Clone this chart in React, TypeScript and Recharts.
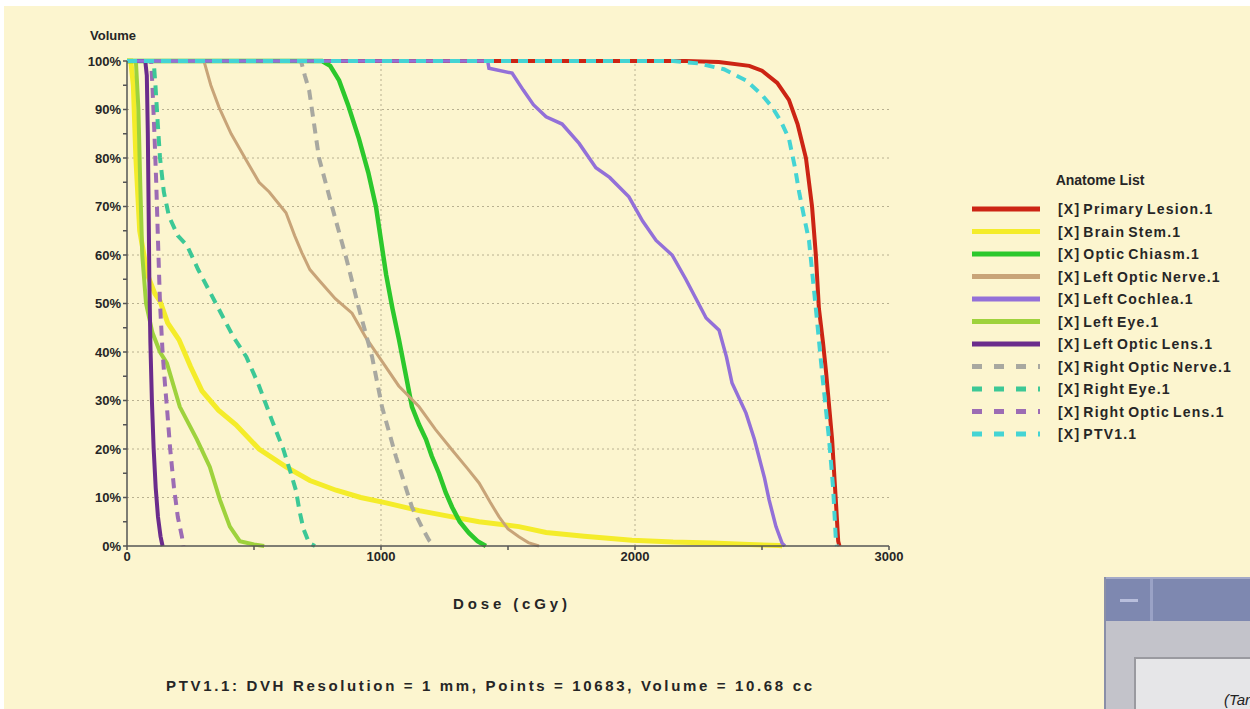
import { LineChart, Line, XAxis, YAxis, ReferenceLine } from "recharts";

// DVH curves: [dose cGy, volume %]
const primaryLesion = [
  [0, 100], [2200, 100], [2330, 99.8], [2450, 99], [2500, 98], [2560, 95.5], [2606, 92], [2640, 87],
  [2673, 80], [2697, 70], [2712, 60], [2724, 49], [2740, 42], [2752, 36], [2776, 22], [2790, 10],
  [2800, 1], [2805, 0],
];
const brainStem = [
  [0, 100], [15, 100], [25, 95], [35, 80], [50, 65], [80, 56], [110, 52], [130, 50.5], [160, 46],
  [205, 42.5], [250, 37], [295, 32], [360, 28], [429, 25], [520, 20], [626, 16.3], [720, 13.5],
  [823, 11.5], [920, 10], [1020, 8.9], [1150, 7.3], [1280, 6], [1386, 5], [1543, 4], [1650, 2.8],
  [1800, 2], [1988, 1.2], [2150, 0.8], [2303, 0.6], [2450, 0.3], [2567, 0.1], [2580, 0],
];
const opticChiasm = [
  [0, 100], [768, 100], [800, 99], [835, 96], [870, 91], [913, 84], [950, 77], [980, 70], [1000, 63],
  [1020, 56], [1045, 49], [1071, 42.5], [1095, 36], [1122, 28.7], [1150, 25], [1177, 22], [1200, 18.5],
  [1228, 15], [1255, 11], [1280, 8], [1310, 5], [1346, 2.7], [1380, 1], [1413, 0],
];
const leftOpticNerve = [
  [0, 100], [303, 100], [330, 95], [362, 90.5], [410, 85], [469, 79.6], [520, 75], [560, 73],
  [626, 68.7], [660, 64], [689, 60.4], [720, 57], [756, 54.8], [820, 51], [886, 48], [940, 43],
  [992, 39], [1070, 33], [1150, 28.7], [1215, 24], [1280, 19.8], [1340, 16], [1386, 13], [1430, 9],
  [1465, 6], [1500, 3.5], [1543, 1.9], [1580, 0.7], [1622, 0],
];
const leftCochlea = [
  [0, 100], [1420, 100], [1425, 98.5], [1516, 97.5], [1560, 94], [1600, 91], [1650, 88.5], [1713, 87],
  [1780, 83], [1846, 78], [1900, 76], [1976, 72], [2030, 67], [2083, 63], [2146, 60], [2200, 55],
  [2280, 47], [2331, 44.5], [2360, 39], [2382, 33.6], [2437, 27.4], [2470, 22], [2488, 18.4],
  [2510, 14], [2528, 9.5], [2555, 4], [2579, 0.6], [2590, 0],
];
const leftEye = [
  [0, 100], [35, 100], [45, 90], [52, 75], [60, 60], [75, 50], [100, 44], [130, 40], [157, 37.7],
  [208, 28.7], [275, 22], [326, 16.3], [366, 9.5], [405, 4], [444, 1], [500, 0.3], [540, 0],
];
const leftOpticLens = [
  [0, 100], [72, 100], [78, 97], [82, 85], [85, 70], [88, 55], [92, 42], [98, 30], [105, 20],
  [113, 12], [122, 6], [132, 2], [140, 0],
];
const rightOpticNerve = [
  [0, 100], [685, 100], [700, 97], [717, 94], [756, 80], [807, 70], [862, 59.6], [913, 49],
  [965, 39], [1004, 28.7], [1059, 18.4], [1122, 8], [1160, 4], [1189, 1.2], [1209, 0],
];
const rightEye = [
  [0, 100], [105, 100], [112, 95], [120, 88], [130, 80], [145, 73], [165, 68], [200, 64], [236, 62],
  [280, 57], [330, 52], [370, 48], [420, 43], [470, 39], [520, 33], [570, 26], [615, 20], [645, 15],
  [665, 11.5], [680, 7], [695, 3.5], [717, 0.6], [740, 0],
];
const rightOpticLens = [
  [0, 100], [95, 100], [100, 95], [108, 85], [115, 75], [122, 63], [130, 50], [140, 40], [150, 33],
  [157, 28.7], [170, 20], [185, 12], [200, 6], [216, 2], [222, 0],
];
const ptv = [
  [0, 100], [2150, 100], [2250, 99.5], [2350, 98.3], [2437, 96], [2500, 93], [2540, 90.5],
  [2575, 87.5], [2606, 84], [2630, 78], [2646, 73], [2665, 68], [2685, 63], [2712, 49], [2736, 36],
  [2764, 22], [2780, 12], [2791, 1], [2795, 0],
];

const xTicks = [0, 500, 1000, 1500, 2000, 2500, 3000];
const yTicks = [0, 5, 10, 15, 20, 25, 30, 35, 40, 45, 50, 55, 60, 65, 70, 75, 80, 85, 90, 95, 100];
const gridY = [10, 20, 30, 40, 50, 60, 70, 80, 90];
const gridX = [1000, 2000];

// legend order
const series = [
  { label: "[X] Primary Lesion.1", color: "#cc2414", w: 4, dash: "", pts: primaryLesion },
  { label: "[X] Brain Stem.1", color: "#f4ec2a", w: 5, dash: "", pts: brainStem },
  { label: "[X] Optic Chiasm.1", color: "#2cc82c", w: 4.5, dash: "", pts: opticChiasm },
  { label: "[X] Left Optic Nerve.1", color: "#c8a478", w: 3, dash: "", pts: leftOpticNerve },
  { label: "[X] Left Cochlea.1", color: "#9370d8", w: 3.5, dash: "", pts: leftCochlea },
  { label: "[X] Left Eye.1", color: "#9ed23c", w: 4, dash: "", pts: leftEye },
  { label: "[X] Left Optic Lens.1", color: "#6b2c8c", w: 4, dash: "", pts: leftOpticLens },
  { label: "[X] Right Optic Nerve.1", color: "#a8a8a0", w: 4, dash: "10 7", pts: rightOpticNerve },
  { label: "[X] Right Eye.1", color: "#3cc896", w: 4, dash: "10 7", pts: rightEye },
  { label: "[X] Right Optic Lens.1", color: "#9c6cb4", w: 4, dash: "10 7", pts: rightOpticLens },
  { label: "[X] PTV1.1", color: "#44d4d4", w: 4, dash: "10 7", pts: ptv },
];

// draw order (last on top)
const drawOrder = [0, 1, 2, 3, 7, 5, 6, 9, 8, 4, 10];

const BG = "#fcf5cf";
const INK = "#262626";

export default function App() {
  return (
    <div style={{ position: "absolute", left: 0, top: 0, width: 1250, height: 709, background: "#fff", overflow: "hidden", fontFamily: "'Liberation Sans', Arial, sans-serif" }}>
      <style>{"html,body{margin:0;padding:0;overflow:hidden;}"}</style>
      <div style={{ position: "absolute", left: 4, top: 6, width: 1246, height: 703, background: BG }} />

      <div style={{ position: "absolute", left: 0, top: 0 }}>
        <LineChart width={940} height={600} margin={{ top: 61, right: 51, bottom: 24, left: 67 }}>
          <XAxis
            dataKey="dose"
            type="number"
            domain={[0, 3000]}
            ticks={xTicks}
            tickFormatter={(v) => (v % 1000 === 0 ? String(v) : "")}
            height={30}
            stroke="#555"
            strokeWidth={1.5}
            tickSize={4}
            tick={{ fill: INK, fontSize: 13, fontWeight: "bold" }}
          />
          <YAxis
            type="number"
            domain={[0, 100]}
            ticks={yTicks}
            tickFormatter={(v) => (v % 10 === 0 ? v + "%" : "")}
            width={60}
            stroke="#555"
            strokeWidth={1.5}
            tickSize={4}
            tick={{ fill: INK, fontSize: 13, fontWeight: "bold" }}
            interval={0}
          />
          {gridY.map((y) => (
            <ReferenceLine key={"gy" + y} y={y} stroke="#b8b090" strokeDasharray="2 3" />
          ))}
          {gridX.map((x) => (
            <ReferenceLine key={"gx" + x} x={x} stroke="#b8b090" strokeDasharray="2 3" />
          ))}
          {drawOrder.map((i) => {
            const s = series[i];
            return (
              <Line
                key={s.label}
                data={s.pts.map(([d, v]) => ({ dose: d, vol: v }))}
                dataKey="vol"
                type="linear"
                stroke={s.color}
                strokeWidth={s.w}
                strokeDasharray={s.dash || undefined}
                dot={false}
                activeDot={false}
                isAnimationActive={false}
              />
            );
          })}
        </LineChart>
      </div>

      <svg width={1250} height={709} style={{ position: "absolute", left: 0, top: 0, pointerEvents: "none" }}>
        <text x={113} y={40} textAnchor="middle" fontSize={13} fontWeight="bold" fill={INK}>Volume</text>
        <text x={453} y={609} fontSize={15} fontWeight="bold" fill={INK} textLength={114} lengthAdjust="spacing">Dose (cGy)</text>
        <text x={166} y={691} fontSize={15} fontWeight="bold" fill={INK} textLength={646} lengthAdjust="spacing">
          PTV1.1: DVH Resolution = 1 mm, Points = 10683, Volume = 10.68 cc
        </text>

        <text x={1100} y={185} textAnchor="middle" fontSize={14} fontWeight="bold" fill={INK}>Anatome List</text>
        {series.map((s, i) => {
          const y = 209 + i * 22.5;
          return (
            <g key={s.label}>
              <line x1={972} x2={1040} y1={y} y2={y} stroke={s.color} strokeWidth={5} strokeDasharray={s.dash ? "10 12" : undefined} />
              <text x={1058} y={y + 5} fontSize={14} fontWeight="bold" fill={INK} letterSpacing={1.2} wordSpacing={-2}>{s.label}</text>
            </g>
          );
        })}
      </svg>

      {/* partial dialog window in the corner */}
      <div style={{ position: "absolute", left: 1104, top: 577, width: 146, height: 132, background: "#c3c3ca", borderLeft: "2px solid #8a8fa8" }}>
        <div style={{ position: "absolute", left: 0, top: 0, width: 146, height: 42, background: "#7e88b0", borderTop: "2px solid #a4aac8" }}>
          <div style={{ position: "absolute", left: 44, top: 0, width: 3, height: 42, background: "#9aa2c6" }} />
          <div style={{ position: "absolute", left: 14, top: 20, width: 18, height: 3, background: "#b8bedc" }} />
        </div>
        <div style={{ position: "absolute", left: 28, top: 80, width: 118, height: 52, background: "#e6e6e8", borderTop: "2px solid #9a9aa0", borderLeft: "2px solid #9a9aa0" }}>
          <div style={{ position: "absolute", left: 88, top: 32, fontSize: 15, fontStyle: "italic", color: "#222", whiteSpace: "nowrap" }}>(Target</div>
        </div>
      </div>
    </div>
  );
}
